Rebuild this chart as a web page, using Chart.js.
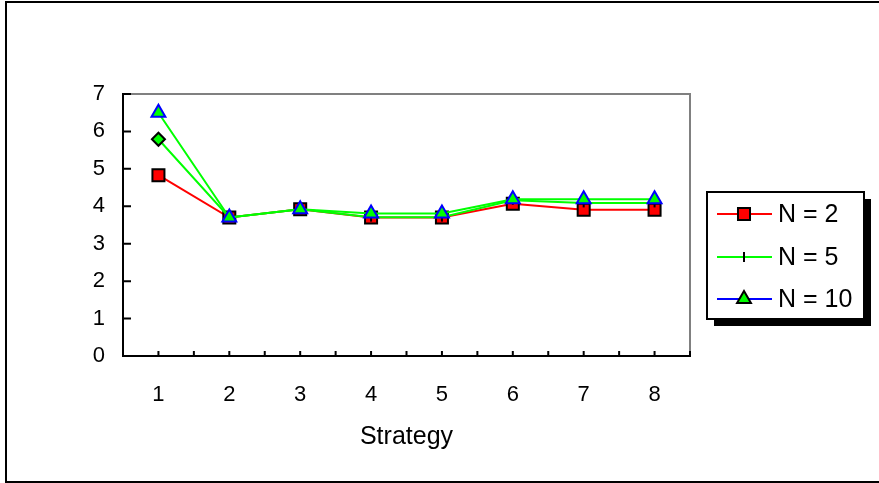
<!DOCTYPE html>
<html>
<head>
<meta charset="utf-8">
<script src="https://cdn.jsdelivr.net/npm/chart.js@4/dist/chart.umd.min.js"></script>
<style>
  html, body { margin: 0; padding: 0; background: #fff; }
  canvas { display: block; }
</style>
</head>
<body>
<canvas id="c" width="879" height="483"></canvas>
<script>
// ---- data ----
const categories = [1, 2, 3, 4, 5, 6, 7, 8];
const seriesN2  = [4.83, 3.70, 3.92, 3.70, 3.70, 4.07, 3.91, 3.91];
const seriesN5  = [5.79, 3.70, 3.92, 3.71, 3.71, 4.16, 4.09, 4.09];
const seriesN10 = [6.50, 3.70, 3.92, 3.81, 3.81, 4.19, 4.19, 4.19];
const seriesLabels = ['N = 2', 'N = 5', 'N = 10'];
const yTicks = [0, 1, 2, 3, 4, 5, 6, 7];
const xTitle = 'Strategy';

const FONT = "'Liberation Sans', Arial, sans-serif";
const toPts = arr => arr.map((v, i) => ({ x: categories[i], y: v }));

const n5Styles = categories.map((c, i) => i === 0 ? 'rectRot' : 'line');
const n5Radius = categories.map((c, i) => i === 0 ? 6.5 : 4.5);
const n5Rot = categories.map((c, i) => i === 0 ? 0 : 90);
const n5Fill = categories.map((c, i) => i === 0 ? '#00ff00' : '#000');

const framePlugin = {
  id: 'frame',
  beforeDraw(chart) {
    const ctx = chart.ctx;
    ctx.save();
    ctx.fillStyle = '#fff';
    ctx.fillRect(0, 0, chart.width, chart.height);
    ctx.strokeStyle = '#000';
    ctx.lineWidth = 2;
    ctx.strokeRect(6, 2, 890, 480);
    ctx.restore();
  },
  beforeDatasetsDraw(chart) {
    const { ctx, chartArea: a, scales: { x, y } } = chart;
    ctx.save();
    ctx.strokeStyle = '#808080';
    ctx.lineWidth = 2;
    ctx.beginPath();
    ctx.moveTo(a.left, a.top);
    ctx.lineTo(a.right, a.top);
    ctx.lineTo(a.right, a.bottom);
    ctx.stroke();
    ctx.strokeStyle = '#000';
    ctx.beginPath();
    ctx.moveTo(a.left, a.top - 1);
    ctx.lineTo(a.left, a.bottom);
    ctx.lineTo(a.right + 1, a.bottom);
    y.ticks.forEach(t => {
      const py = y.getPixelForValue(t.value);
      ctx.moveTo(a.left, py);
      ctx.lineTo(a.left + 8, py);
    });
    x.ticks.forEach(t => {
      const px = x.getPixelForValue(t.value);
      ctx.moveTo(px, a.bottom);
      ctx.lineTo(px, a.bottom - 5);
    });
    ctx.stroke();
    ctx.restore();
  },
  afterDraw(chart) {
    const ctx = chart.ctx;
    const bx = 707, by = 192, bw = 157, bh = 127, sh = 7;
    ctx.save();
    ctx.fillStyle = '#000';
    ctx.fillRect(bx + sh, by + sh, bw, bh);
    ctx.fillStyle = '#fff';
    ctx.fillRect(bx, by, bw, bh);
    ctx.strokeStyle = '#000';
    ctx.lineWidth = 2;
    ctx.strokeRect(bx, by, bw, bh);
    const rows = [214, 257, 299];
    const lineColors = ['#ff0000', '#00ff00', '#0000ff'];
    const markers = [
      { pointStyle: 'rect', radius: 8.5, rotation: 0, borderWidth: 2, fill: '#ff0000' },
      { pointStyle: 'line', radius: 5, rotation: 90, borderWidth: 2, fill: '#000' },
      { pointStyle: 'triangle', radius: 8, rotation: 0, borderWidth: 2, fill: '#00ff00' }
    ];
    rows.forEach((ry, i) => {
      ctx.strokeStyle = lineColors[i];
      ctx.lineWidth = 2;
      ctx.beginPath();
      ctx.moveTo(717, ry);
      ctx.lineTo(772, ry);
      ctx.stroke();
      ctx.fillStyle = markers[i].fill;
      ctx.strokeStyle = '#000';
      ctx.lineWidth = markers[i].borderWidth;
      Chart.helpers.drawPoint(ctx, markers[i], 744, ry);
      ctx.fillStyle = '#000';
      ctx.font = '25px ' + FONT;
      ctx.textBaseline = 'middle';
      ctx.textAlign = 'left';
      ctx.fillText(seriesLabels[i], 778, ry + 1);
    });
    ctx.restore();
  }
};

new Chart(document.getElementById('c'), {
  type: 'line',
  data: {
    datasets: [
      {
        label: seriesLabels[0],
        data: toPts(seriesN2),
        borderColor: '#ff0000',
        borderWidth: 2,
        pointStyle: 'rect',
        pointRadius: 8.5,
        pointBackgroundColor: '#ff0000',
        pointBorderColor: '#000',
        pointBorderWidth: 2,
        order: 3
      },
      {
        label: seriesLabels[1],
        data: toPts(seriesN5),
        borderColor: '#00ff00',
        borderWidth: 2,
        pointStyle: n5Styles,
        pointRadius: n5Radius,
        pointRotation: n5Rot,
        pointBackgroundColor: n5Fill,
        pointBorderColor: '#000',
        pointBorderWidth: 2,
        order: 2
      },
      {
        label: seriesLabels[2],
        data: toPts(seriesN10),
        borderColor: '#00ff00',
        borderWidth: 2,
        pointStyle: 'triangle',
        pointRadius: 8,
        pointBackgroundColor: '#00ff00',
        pointBorderColor: '#0000ff',
        pointBorderWidth: 2,
        order: 1
      }
    ]
  },
  options: {
    responsive: false,
    animation: false,
    devicePixelRatio: 1,
    layout: { padding: { left: 0, top: 94, right: 189, bottom: 0 } },
    plugins: { legend: { display: false }, tooltip: { enabled: false } },
    elements: { line: { tension: 0 } },
    scales: {
      x: {
        type: 'linear',
        min: 0.5,
        max: 8.5,
        grid: { display: false, drawTicks: false },
        border: { display: false },
        ticks: {
          stepSize: 0.5,
          autoSkip: false,
          maxRotation: 0,
          padding: 26,
          color: '#000',
          font: { family: FONT, size: 22 },
          callback: v => Number.isInteger(v) ? String(categories[v - 1]) : ''
        },
        title: {
          display: true,
          text: xTitle,
          color: '#000',
          font: { family: FONT, size: 25 },
          padding: { top: 0, bottom: 31 }
        },
        afterFit: s => { s.height = 127; }
      },
      y: {
        min: 0,
        max: 7,
        grid: { display: false, drawTicks: false },
        border: { display: false },
        afterBuildTicks: s => { s.ticks = yTicks.map(v => ({ value: v })); },
        ticks: {
          padding: 18,
          color: '#000',
          font: { family: FONT, size: 22 }
        },
        afterFit: s => { s.width = 123; }
      }
    }
  },
  plugins: [framePlugin]
});
</script>
</body>
</html>
